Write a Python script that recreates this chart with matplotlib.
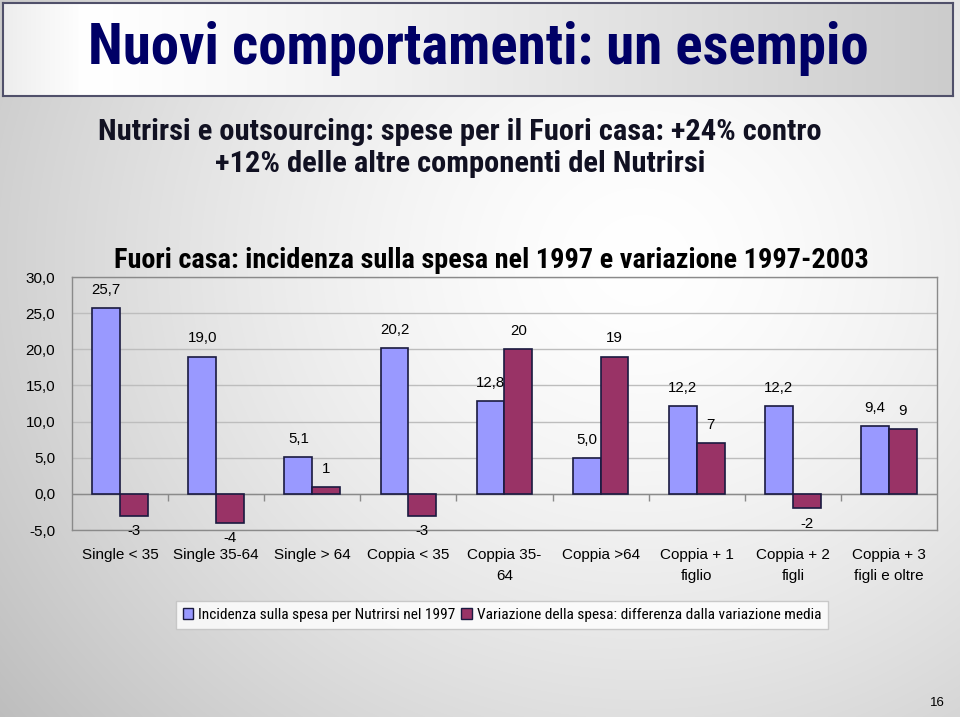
import numpy as np
import matplotlib
matplotlib.use("Agg")
import matplotlib.pyplot as plt
from matplotlib.patches import Patch
from matplotlib.lines import TICKDOWN

categories = ["Single < 35", "Single 35-64", "Single > 64", "Coppia < 35",
              "Coppia 35-\n64", "Coppia >64", "Coppia + 1\nfiglio",
              "Coppia + 2\nfigli", "Coppia + 3\nfigli e oltre"]
incidenza = [25.7, 19.0, 5.1, 20.2, 12.8, 5.0, 12.2, 12.2, 9.4]
variazione = [-3, -4, 1, -3, 20, 19, 7, -2, 9]
yticks = [-5, 0, 5, 10, 15, 20, 25, 30]
ytick_labels = ["-5,0", "0,0", "5,0", "10,0", "15,0", "20,0", "25,0", "30,0"]

series_names = ["Incidenza sulla spesa per Nutrirsi nel 1997",
                "Variazione della spesa: differenza dalla variazione media"]

NARROW = ["Liberation Sans Narrow", "Arial Narrow", "DejaVu Sans Condensed",
          "Roboto Condensed", "Open Sans Condensed", "Liberation Sans", "DejaVu Sans"]
REG = ["Liberation Sans", "DejaVu Sans"]
BLUE = "#9999FF"
RED = "#993366"
EDGE = "#1a1a40"

W, H = 960, 717
fig = plt.figure(figsize=(W / 100, H / 100), dpi=100)
renderer = fig.canvas.get_renderer()


def fit(t, target_w):
    w = t.get_window_extent(renderer).width
    t.set_fontsize(t.get_fontsize() * target_w / w)


# background gradient
bg = fig.add_axes([0, 0, 1, 1], zorder=-10)
yy, xx = np.mgrid[0:H, 0:W]
d = np.hypot(xx - 640, (yy - 260) * 1.1) / 820.0
shade = 1 - 0.26 * np.clip(d, 0, 1.2) ** 1.5
bg.imshow(np.dstack([shade] * 3), extent=[0, 1, 0, 1], aspect="auto")
bg.set_axis_off()

# title box
tb = fig.add_axes([3 / W, 1 - 96 / H, 950 / W, 93 / H], zorder=-5)
gx = np.linspace(0, 1, 400)
g = np.where(gx < 0.08, 0.93 + gx * 0.8, 1 - 0.2 * ((gx - 0.08) / 0.92) ** 1.2)
tb.imshow(np.dstack([np.tile(g, (10, 1))] * 3), extent=[0, 1, 0, 1], aspect="auto")
tb.set_xticks([])
tb.set_yticks([])
for s in tb.spines.values():
    s.set_color("#50506a")
    s.set_linewidth(1.5)
t_title = fig.text(478 / W, 1 - 49 / H, "Nuovi comportamenti: un esempio", ha="center",
                   va="center", fontsize=39, fontweight="bold", color="#000066",
                   family=NARROW, fontstretch="condensed")
fit(t_title, 780)

# subtitle
t_sub = fig.text(460 / W, 1 - 148 / H,
                 "Nutrirsi e outsourcing: spese per il Fuori casa: +24% contro\n+12% delle altre componenti del Nutrirsi",
                 ha="center", va="center", fontsize=19.5, fontweight="bold",
                 color="#111122", family=NARROW, fontstretch="condensed", linespacing=1.15)
fit(t_sub, 724)

# chart title
t_ct = fig.text(491 / W, 1 - 260 / H,
                "Fuori casa: incidenza sulla spesa nel 1997 e variazione 1997-2003",
                ha="center", va="center", fontsize=18.5, fontweight="bold",
                color="#000000", family=NARROW, fontstretch="condensed")
fit(t_ct, 757)

# main chart
left, right, top, bottom = 72, 937, 277, 530
ax = fig.add_axes([left / W, 1 - bottom / H, (right - left) / W, (bottom - top) / H])
ax.set_facecolor("none")
x = np.arange(len(categories))
bw = 0.29
b1 = ax.bar(x - bw / 2, incidenza, bw, color=BLUE, edgecolor=EDGE, linewidth=1.2, zorder=3)
b2 = ax.bar(x + bw / 2, variazione, bw, color=RED, edgecolor=EDGE, linewidth=1.2, zorder=3)
ax.set_xlim(-0.5, len(categories) - 0.5)
ax.set_ylim(-5, 30)
ax.set_yticks(yticks)
ax.set_yticklabels(ytick_labels, family=REG, fontsize=11)
ax.tick_params(axis="y", length=0, pad=12)
ax.set_xticks(x)
ax.set_xticklabels(categories, family=REG, fontsize=11, linespacing=1.6)
ax.tick_params(axis="x", length=0, pad=13)
ax.grid(axis="y", color="#bdbdbd", linewidth=1, zorder=0)
for s in ax.spines.values():
    s.set_color("#8a8a8a")
    s.set_linewidth(1)
ax.axhline(0, color="#8a8a8a", linewidth=1, zorder=2)
bounds = np.arange(len(categories) + 1) - 0.5
ax.plot(bounds[1:-1], np.zeros(len(bounds) - 2), linestyle="none",
        marker=TICKDOWN, markersize=5, color="#8a8a8a", zorder=2)


def label(bars, vals, fmt):
    for rect, v in zip(bars, vals):
        cx = rect.get_x() + rect.get_width() / 2
        if v >= 0:
            ax.annotate(fmt(v), (cx, v), xytext=(0, 8), textcoords="offset points",
                        ha="center", va="bottom", fontsize=10.8, family=REG,
                        annotation_clip=False, zorder=5)
        else:
            ax.annotate(fmt(v), (cx, v), xytext=(0, -6), textcoords="offset points",
                        ha="center", va="top", fontsize=10.8, family=REG,
                        annotation_clip=False, zorder=5)


label(b1, incidenza, lambda v: f"{v:.1f}".replace(".", ","))
label(b2, variazione, lambda v: f"{v:g}")

handles = [Patch(facecolor=BLUE, edgecolor=EDGE, linewidth=1),
           Patch(facecolor=RED, edgecolor=EDGE, linewidth=1)]


def make_legend(size):
    lg = fig.legend(handles, series_names, loc="center",
                    bbox_to_anchor=(502 / W, 1 - 615 / H),
                    ncol=2, frameon=True, fancybox=False,
                    prop={"family": NARROW, "size": size, "stretch": "condensed"},
                    handlelength=0.7, handleheight=0.7, handletextpad=0.3,
                    columnspacing=0.4, borderpad=0.45, borderaxespad=0)
    lg.get_frame().set_edgecolor("#c0c0c0")
    lg.get_frame().set_facecolor("white")
    lg.get_frame().set_linewidth(1)
    return lg


size = 10.5
leg = make_legend(size)
for _ in range(3):
    w = leg.get_window_extent(renderer).width
    size = size * 652 / w
    leg.remove()
    leg = make_legend(size)

fig.text(937 / W, 1 - 703 / H, "16", ha="center", va="center", fontsize=9.5,
         family=REG, color="#000000")

fig.savefig("out.png", dpi=100)
